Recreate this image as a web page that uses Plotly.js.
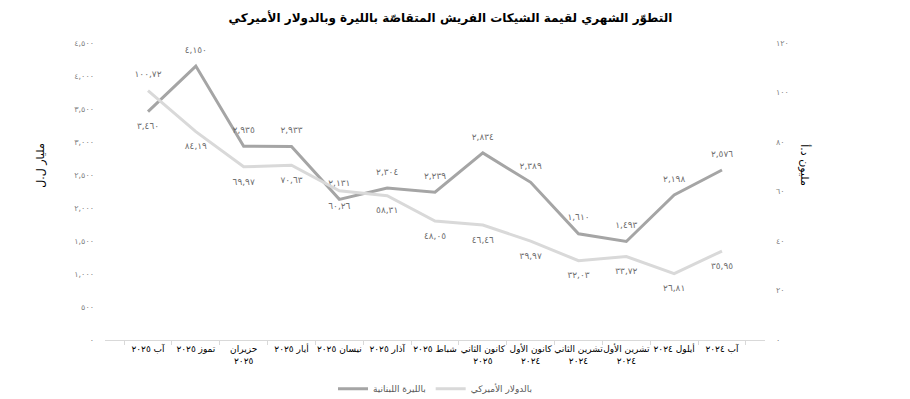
<!DOCTYPE html>
<html>
<head>
<meta charset="utf-8">
<script src="https://cdn.plot.ly/plotly-3.0.1.min.js"></script>
<style>html,body{margin:0;padding:0;background:#fff;}#chart{width:910px;height:399px;}</style>
</head>
<body>
<div id="chart"></div>
<script>
// Categories, displayed left-to-right (most recent first)
const months = [
  "آب ٢٠٢٥", "تموز ٢٠٢٥", "حزيران<br>٢٠٢٥", "أيار ٢٠٢٥", "نيسان ٢٠٢٥",
  "آذار ٢٠٢٥", "شباط ٢٠٢٥", "كانون الثاني<br>٢٠٢٥", "كانون الأول<br>٢٠٢٤",
  "تشرين الثاني<br>٢٠٢٤", "تشرين الأول<br>٢٠٢٤", "أيلول ٢٠٢٤", "آب ٢٠٢٤"
];
const lbpValues = [3460, 4150, 2935, 2933, 2131, 2304, 2239, 2834, 2389, 1610, 1493, 2198, 2576];
const usdValues = [100.72, 84.19, 69.97, 70.63, 60.26, 58.31, 48.05, 46.46, 39.97, 32.03, 33.72, 26.81, 35.95];
const leftTicks = [0, 500, 1000, 1500, 2000, 2500, 3000, 3500, 4000, 4500];
const rightTicks = [0, 20, 40, 60, 80, 100, 120];

const digits = "٠١٢٣٤٥٦٧٨٩";
function ar(v, dec) {
  let s = v.toFixed(dec);
  let [ip, fp] = s.split(".");
  ip = ip.replace(/\B(?=(\d{3})+(?!\d))/g, ",");
  s = fp ? ip + "," + fp : ip;
  return s.replace(/\d/g, d => digits[+d]);
}
const FONT = "DejaVu Sans, Arial, sans-serif";

const lbpText = lbpValues.map(v => ar(v, 0));
const usdText = usdValues.map(v => ar(v, 2));
const lbpPos = lbpValues.map((v, i) => i === 0 ? "bottom center" : "top center");
const usdPos = usdValues.map((v, i) => i === 0 ? "top center" : "bottom center");

const traces = [
  {
    x: months, y: lbpValues, name: "بالليرة اللبنانية", type: "scatter", mode: "lines+markers+text",
    line: {color: "#a5a5a5", width: 3}, marker: {size: 16, color: "rgba(0,0,0,0)"},
    text: lbpText, textposition: lbpPos,
    textfont: {family: FONT, size: 9, color: "#6f6f6f"}, cliponaxis: false, hoverinfo: "skip"
  },
  {
    x: months, y: usdValues, name: "بالدولار الأميركي", type: "scatter", mode: "lines+markers+text",
    yaxis: "y2", line: {color: "#d9d9d9", width: 3}, marker: {size: 16, color: "rgba(0,0,0,0)"},
    text: usdText, textposition: usdPos,
    textfont: {family: FONT, size: 9, color: "#6f6f6f"}, cliponaxis: false, hoverinfo: "skip"
  }
];

const layout = {
  width: 910, height: 399,
  margin: {l: 105, r: 145, t: 43, b: 59, autoexpand: false},
  paper_bgcolor: "#fff", plot_bgcolor: "#fff",
  font: {family: FONT, size: 9, color: "#595959"},
  title: {text: "<b>التطوّر الشهري لقيمة الشيكات الفريش المتقاصّة بالليرة وبالدولار الأميركي</b>",
          x: 0.495, xref: "container", y: 0.965, yref: "container",
          font: {family: FONT, size: 12, color: "#000"}},
  xaxis: {
    type: "category", showgrid: false, zeroline: false, showline: true,
    linecolor: "#d9d9d9", linewidth: 1, ticks: "outside", tickson: "boundaries",
    tickcolor: "#d9d9d9", ticklen: 4, tickangle: 0, automargin: false,
    tickfont: {family: FONT, size: 9, color: "#000"}, fixedrange: true
  },
  yaxis: {
    range: [0, 4500], tickvals: leftTicks, ticktext: leftTicks.map(v => ar(v, 0)),
    showgrid: false, zeroline: false, showline: false, ticks: "", automargin: false,
    tickfont: {family: FONT, size: 8, color: "#7f7f7f"}, ticklabelstandoff: 10
  },
  yaxis2: {
    range: [0, 120], overlaying: "y", side: "right", tickvals: rightTicks,
    ticktext: rightTicks.map(v => ar(v, 0)), showgrid: false, zeroline: false,
    showline: false, ticks: "", automargin: false,
    tickfont: {family: FONT, size: 8, color: "#7f7f7f"}, ticklabelstandoff: 10
  },
  showlegend: true,
  legend: {orientation: "h", x: 0.5, xanchor: "center", y: -0.115, yanchor: "top",
           font: {family: FONT, size: 9, color: "#595959"}},
  annotations: [
    {text: "مليار ل.ل", xref: "paper", yref: "paper", x: -0.11, y: 0.59, textangle: -90,
     showarrow: false, font: {family: FONT, size: 11, color: "#000"}},
    {text: "مليون د.أ", xref: "paper", yref: "paper", x: 1.075, y: 0.59, textangle: 90,
     showarrow: false, font: {family: FONT, size: 11, color: "#000"}}
  ]
};

Plotly.newPlot("chart", traces, layout, {staticPlot: true, displayModeBar: false});
</script>
</body>
</html>
